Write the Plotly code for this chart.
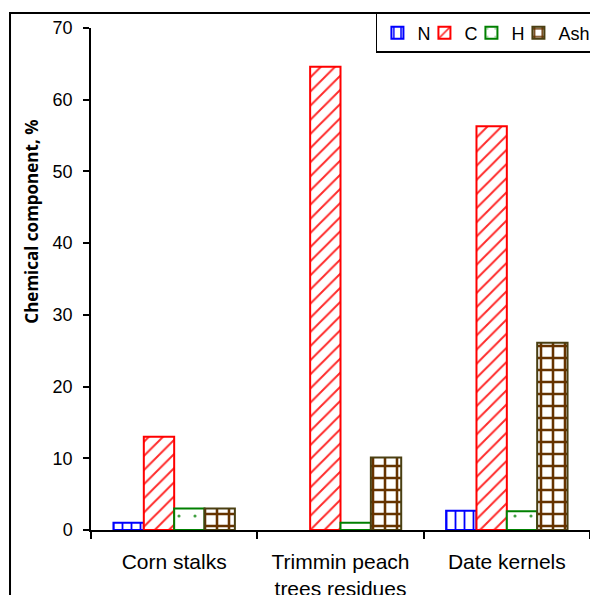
import plotly.graph_objects as go

# Biomass samples and their chemical composition (%)
categories = ["Corn stalks", "Trimmin peach<br>trees residues", "Date kernels"]
nitrogen = [1.0, None, 2.7]
carbon = [13.0, 64.6, 56.3]
hydrogen = [3.0, 1.0, 2.6]
ash = [3.0, 10.1, 26.1]

y_ticks = [0, 10, 20, 30, 40, 50, 60, 70]

series = [
    ("N", nitrogen, "#0000FF", "#0000FF", "|", 9, 0.2),
    ("C", carbon, "#FF0000", "#FF2A2A", "/", 10, 0.2),
    ("H", hydrogen, "#008000", "#40A040", ".", 16, 0.03),
    ("Ash", ash, "#4A3F12", "#663300", "+", 12, 0.38),
]

fig = go.Figure()
for name, vals, line_col, fg, shape, size, solid in series:
    fig.add_trace(go.Bar(
        name=name,
        x=categories,
        y=vals,
        marker=dict(
            color="white",
            line=dict(color=line_col, width=2),
            pattern=dict(shape=shape, fgcolor=fg, bgcolor="white",
                         size=size, solidity=solid, fillmode="replace"),
        ),
    ))

# blank trailing legend slot so the last legend label has room inside the box
fig.add_trace(go.Scatter(
    name=" ", x=[None], y=[None], mode="markers",
    marker=dict(color="rgba(0,0,0,0)", size=1),
    hoverinfo="skip",
))

# outer chart frame
fig.add_shape(type="rect", xref="paper", yref="paper",
              x0=-0.1623, x1=1.2, y0=-0.3, y1=1.0299,
              line=dict(color="black", width=2), fillcolor="rgba(0,0,0,0)",
              layer="below")

fig.add_annotation(
    text="<b>Chemical component, %</b>",
    xref="paper", yref="paper", x=-0.148, y=0.6135,
    textangle=-90, showarrow=False,
    font=dict(family="Open Sans", size=17, color="black"),
)

fig.update_layout(
    width=590, height=595,
    margin=dict(l=91, r=0, t=28, b=65, autoexpand=False),
    paper_bgcolor="white", plot_bgcolor="white",
    barmode="group", bargap=0.27, bargroupgap=0.0,
    font=dict(family="Liberation Sans", size=18, color="black"),
    showlegend=True,
    legend=dict(
        orientation="h", x=0.571, y=1.0299, xanchor="left", yanchor="top",
        bordercolor="black", borderwidth=1.5, bgcolor="white",
        font=dict(family="Liberation Sans", size=18),
        itemwidth=30, tracegroupgap=0, entrywidth=2, entrywidthmode="pixels",
    ),
    xaxis=dict(
        range=[-0.5, 2.5], showline=True, linecolor="black", linewidth=1.5,
        ticks="outside", tickson="boundaries", ticklen=7, tickcolor="black",
        tickwidth=1.5, showgrid=False, zeroline=False, ticklabelstandoff=12,
        tickfont=dict(family="Liberation Sans", size=21),
    ),
    yaxis=dict(
        range=[0, 70], tickvals=y_ticks, showline=True, linecolor="black",
        linewidth=1.5, ticks="outside", ticklen=6, tickcolor="black",
        tickwidth=1.5, showgrid=False, zeroline=False, ticklabelstandoff=7,
        tickfont=dict(family="Liberation Sans", size=18),
    ),
)

fig.write_html("out.html")
